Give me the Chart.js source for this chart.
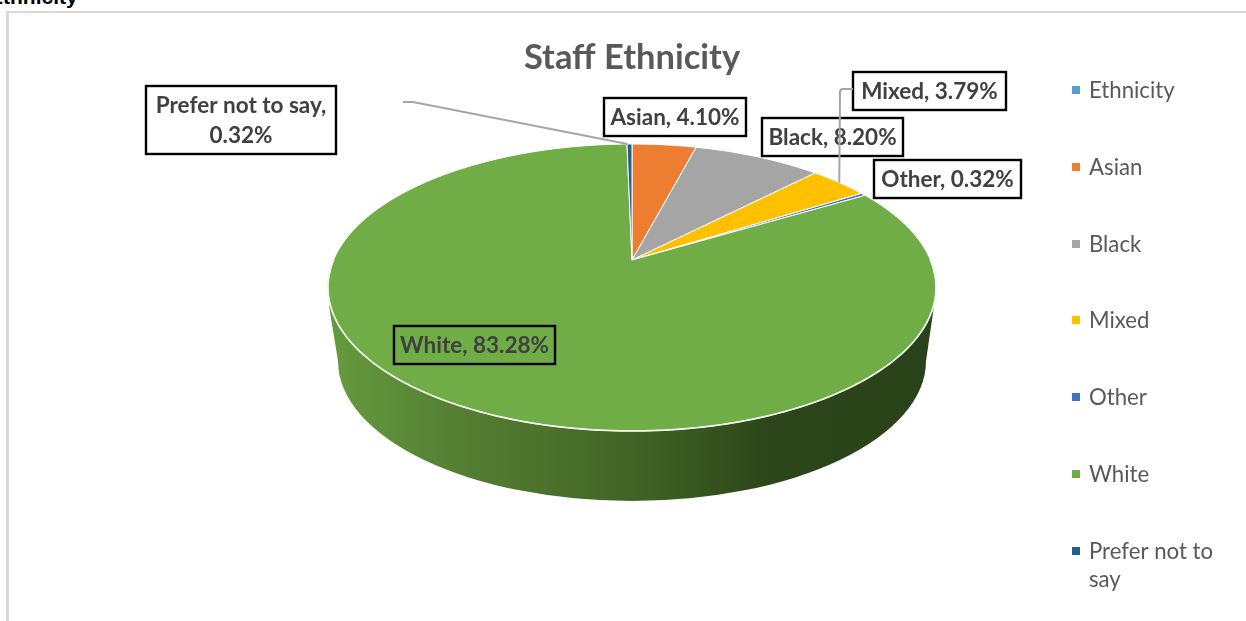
<!DOCTYPE html>
<html>
<head>
<meta charset="utf-8">
<title>Staff Ethnicity</title>
<style>
  html, body { margin: 0; height: 100%; background: #fff; overflow: hidden; }
  #frame { position: absolute; left: 6px; top: 11px; right: -10px; bottom: -10px; border: solid #d9d9d9; border-width: 2px 0 0 3px; }
  #heading { position: absolute; left: -11px; top: -15px; font: bold 21px "Liberation Sans", sans-serif; color: #000; }
  #chart { position: absolute; left: 0; top: 0; }
</style>
</head>
<body>
<div id="heading">Ethnicity</div>
<div id="frame"></div>
<canvas id="chart" width="1246" height="621"></canvas>
<script src="https://cdn.jsdelivr.net/npm/chart.js@4"></script>
<script>
const categories = ['Ethnicity', 'Asian', 'Black', 'Mixed', 'Other', 'White', 'Prefer not to say'];
const shares = [0, 4.10, 8.20, 3.79, 0.32, 83.28, 0.32];
const sliceColors = ['#5b9bd5', '#ed7d31', '#a5a5a5', '#ffc000', '#4472c4', '#70ad47', '#255e91'];

// Perspective of the disc: unit circle -> screen
const PIE = { cx: 632, apexY: 260, rx: 298.4, ry: 138.2, tilt: -0.1916 };
const project = (angle) => {
  const u = Math.cos(angle), v = Math.sin(angle);
  const w = 1 + PIE.tilt * v;
  return { x: PIE.cx + PIE.rx * u / w, y: PIE.apexY + PIE.ry * v / w };
};

// Data label boxes, by category index (left, top, right, bottom)
const labelBoxes = {
  1: [604, 98, 746, 136],
  2: [762, 118, 903, 156],
  3: [853, 72, 1006, 110],
  4: [874, 160, 1021, 198],
  5: [394, 326, 555, 364],
  6: [146, 86, 336, 154],
};

const LABEL_FONT = 'bold 22.5px Lato, sans-serif';
const LEGEND_FONT = '22.2px Lato, sans-serif';

const drawWall = (ctx) => {
  const grad = ctx.createLinearGradient(336, 0, 930, 0);
  grad.addColorStop(0, '#649a3d');
  grad.addColorStop(0.2, '#557f33');
  grad.addColorStop(0.38, '#4a6f2b');
  grad.addColorStop(0.53, '#3f6024');
  grad.addColorStop(0.66, '#324f1d');
  grad.addColorStop(0.73, '#2c451a');
  grad.addColorStop(1, '#2a4219');
  ctx.beginPath();
  ctx.moveTo(934, 306);
  ctx.lineTo(926, 361);
  ctx.ellipse(PIE.cx, 361, 294, 140, 0, 0, Math.PI);
  ctx.lineTo(329, 306);
  ctx.closePath();
  ctx.fillStyle = grad;
  ctx.fill();
};

const drawSlice = (ctx, arc) => {
  const steps = Math.max(2, Math.ceil((arc.endAngle - arc.startAngle) * 60));
  ctx.beginPath();
  ctx.moveTo(PIE.cx, PIE.apexY);
  for (let i = 0; i <= steps; i++) {
    const p = project(arc.startAngle + (arc.endAngle - arc.startAngle) * i / steps);
    ctx.lineTo(p.x, p.y);
  }
  ctx.closePath();
  ctx.fillStyle = arc.options.backgroundColor;
  ctx.fill();
  ctx.strokeStyle = '#fff';
  ctx.lineWidth = 1;
  ctx.lineJoin = 'round';
  ctx.stroke();
};

// Brighter rim where the top face meets the wall
const drawRim = (ctx) => {
  ctx.beginPath();
  for (let i = 0; i <= 180; i++) {
    const p = project((i + 0) * Math.PI / 180);
    if (i === 0) ctx.moveTo(p.x, p.y); else ctx.lineTo(p.x, p.y);
  }
  ctx.strokeStyle = '#f2f5ee';
  ctx.lineWidth = 1.7;
  ctx.stroke();
};

const drawLegend = (ctx) => {
  const rows = [90, 167, 244, 320, 397, 474, 551];
  ctx.font = LEGEND_FONT;
  ctx.textAlign = 'left';
  ctx.textBaseline = 'middle';
  categories.forEach((name, i) => {
    ctx.fillStyle = sliceColors[i];
    ctx.fillRect(1072, rows[i] - 4, 8, 8);
    ctx.fillStyle = '#595959';
    if (name === 'Prefer not to say') {
      ctx.fillText('Prefer not to', 1089, rows[i] + 1);
      ctx.fillText('say', 1089, rows[i] + 29);
    } else {
      ctx.fillText(name, 1089, rows[i] + 1);
    }
  });
};

const drawLabels = (ctx, arcs) => {
  ctx.font = LABEL_FONT;
  ctx.textAlign = 'center';
  ctx.textBaseline = 'middle';
  Object.keys(labelBoxes).forEach((key) => {
    const i = Number(key);
    const [l, t, r, b] = labelBoxes[key];
    if (i !== 5) {
      ctx.fillStyle = '#fff';
      ctx.fillRect(l, t, r - l, b - t);
    }
    ctx.strokeStyle = '#000';
    ctx.lineWidth = 2.4;
    ctx.strokeRect(l, t, r - l, b - t);
    ctx.fillStyle = '#404040';
    const mx = (l + r) / 2, my = (t + b) / 2 + 1;
    if (i === 6) {
      ctx.fillText(categories[i] + ',', mx, my - 15);
      ctx.fillText(shares[i].toFixed(2) + '%', mx, my + 15);
    } else {
      ctx.fillText(`${categories[i]}, ${shares[i].toFixed(2)}%`, mx, my);
    }
  });

  // leader lines sit above the boxes
  const midPoint = (i) => project((arcs[i].startAngle + arcs[i].endAngle) / 2);
  const mixed = midPoint(3);
  const prefer = midPoint(6);
  ctx.strokeStyle = '#a6a6a6';
  ctx.lineWidth = 2;
  ctx.beginPath();
  ctx.moveTo(853, 89);
  ctx.lineTo(843, 89);
  ctx.quadraticCurveTo(840, 89, 840, 92);
  ctx.lineTo(mixed.x, mixed.y);
  ctx.moveTo(403, 102);
  ctx.lineTo(413, 102);
  ctx.lineTo(prefer.x - 2, prefer.y);
  ctx.stroke();
};

const tiltedPie = {
  id: 'tiltedPie',
  beforeDatasetsDraw(chart) {
    const ctx = chart.ctx;
    const arcs = chart.getDatasetMeta(0).data;
    ctx.save();
    drawWall(ctx);
    arcs.forEach((arc) => {
      if (arc.endAngle - arc.startAngle > 0) drawSlice(ctx, arc);
    });
    drawRim(ctx);
    ctx.restore();
    return false;
  },
  afterDraw(chart) {
    const ctx = chart.ctx;
    ctx.save();
    drawLabels(ctx, chart.getDatasetMeta(0).data);
    drawLegend(ctx);
    ctx.restore();
  },
};

new Chart(document.getElementById('chart').getContext('2d'), {
  type: 'pie',
  data: {
    labels: categories,
    datasets: [{ data: shares, backgroundColor: sliceColors, borderColor: '#fff', borderWidth: 1 }],
  },
  options: {
    responsive: false,
    animation: false,
    events: [],
    layout: { padding: { left: 18 } },
    plugins: {
      legend: { display: false },
      tooltip: { enabled: false },
      title: {
        display: true,
        text: 'Staff Ethnicity',
        color: '#595959',
        font: { family: 'Lato, sans-serif', size: 34.5, weight: 'bold' },
        padding: { top: 37, bottom: 10 },
      },
    },
  },
  plugins: [tiltedPie],
});
</script>
</body>
</html>
